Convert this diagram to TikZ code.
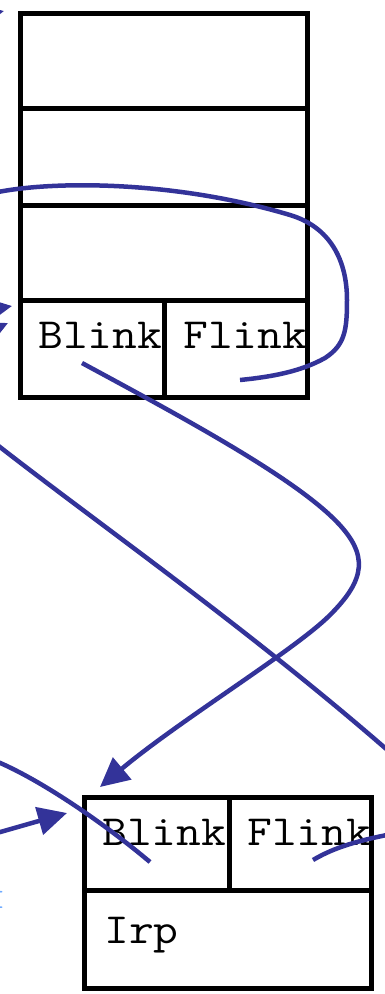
\documentclass[tikz,border=0pt]{standalone}
\usepackage{fontspec}
\usepackage{graphicx}
\usetikzlibrary{arrows.meta}
\definecolor{ptr}{RGB}{51,51,153}
\definecolor{fringe}{RGB}{110,170,255}
\newcommand{\widetxt}[1]{\scalebox{1.12}[1]{#1}}
\tikzset{
  box/.style={line width=5pt, draw=black},
  ptrline/.style={line width=4.5pt, draw=ptr},
  ptrarrow/.style={ptrline, -{Triangle[length=29pt,width=28pt]}},
  lbl/.style={anchor=base west, inner sep=0pt, font=\ttfamily\fontsize{43}{43}\selectfont}
}
\begin{document}
\begin{tikzpicture}[x=1pt,y=-1pt]
\useasboundingbox (0,0) rectangle (385,994);
\clip (0,0) rectangle (385,994);

% ---------- upper structure ----------
\coordinate (uTL) at (20.5,13);
\coordinate (uBR) at (307.5,397.5);
\draw[box] (uTL) rectangle (uBR);
\draw[box] (20.5,108) -- (307.5,108);
\draw[box] (20.5,205.5) -- (307.5,205.5);
\draw[box] (20.5,300.5) -- (307.5,300.5);
\draw[box] (164,300.5) -- (164,397.5);
\node[lbl] (uBlink) at (38,348) {\widetxt{Blink}};
\node[lbl] (uFlink) at (183,348) {\widetxt{Flink}};

% ---------- lower structure ----------
\coordinate (lTL) at (84,797.5);
\coordinate (lBR) at (371,988);
\draw[box] (lTL) rectangle (lBR);
\draw[box] (84,890) -- (371,890);
\draw[box] (229,797.5) -- (229,890);
\node[lbl] (lBlink) at (102,845) {\widetxt{Blink}};
\node[lbl] (lFlink) at (247,845) {\widetxt{Flink}};
\node[lbl] (lIrp) at (104,943) {\widetxt{Irp}};

% cut-off glyph at the left edge
\node[anchor=base east, inner sep=0pt, text=fringe, font=\ttfamily\fontsize{28}{28}\selectfont] (frag) at (5,908) {I};

% ---------- pointers ----------
% arrow fragments at the left edge
\coordinate (aS) at (-40,20);   \coordinate (aT) at (4,11);
\coordinate (bS) at (-47,316);  \coordinate (bT) at (12,306);
\coordinate (cS) at (-46,348);  \coordinate (cT) at (8,323);
\draw[ptrarrow] (aS) -- (aT);
\draw[ptrarrow] (bS) -- (bT);
\draw[ptrarrow] (cS) -- (cT);

% Flink of upper entry: loop over the top to the left
\coordinate (loopL) at (-2,192);
\coordinate (loopE) at (240,380);
\draw[ptrline] (loopL) .. controls (60,180) and (180,182) .. (290,215)
  .. controls (330,227) and (347,260) .. (347,300)
  .. controls (347,330) and (345,345) .. (325,358)
  .. controls (300,372) and (270,377) .. (loopE);

% Blink of upper entry -> lower entry
\coordinate (ubS) at (82,363);
\coordinate (lbT) at (100,787);
\draw[ptrarrow] (ubS) .. controls (180,416) and (290,475) .. (335,520)
  .. controls (370,555) and (365,580) .. (330,615)
  .. controls (295,650) and (180,720) .. (lbT);

% long line from left to right edge
\coordinate (longL) at (-2,445.5);
\coordinate (longR) at (392,754);
\draw[ptrline] (longL) .. controls (100,525) and (250,630) .. (longR);

% Blink of lower entry, coming from the left
\coordinate (lbL) at (-2,762);
\coordinate (lbE) at (150,862);
\draw[ptrline] (lbL) .. controls (40,780) and (100,820) .. (lbE);

% arrow from left into lower entry
\coordinate (inS) at (-5,833.5);
\coordinate (inT) at (67,813);
\draw[ptrarrow] (inS) -- (inT);

% Flink of lower entry, leaving to the right
\coordinate (lfS) at (313,860);
\coordinate (lfR) at (392,834);
\draw[ptrline] (lfS) .. controls (330,850) and (350,842) .. (lfR);
\end{tikzpicture}
\end{document}
